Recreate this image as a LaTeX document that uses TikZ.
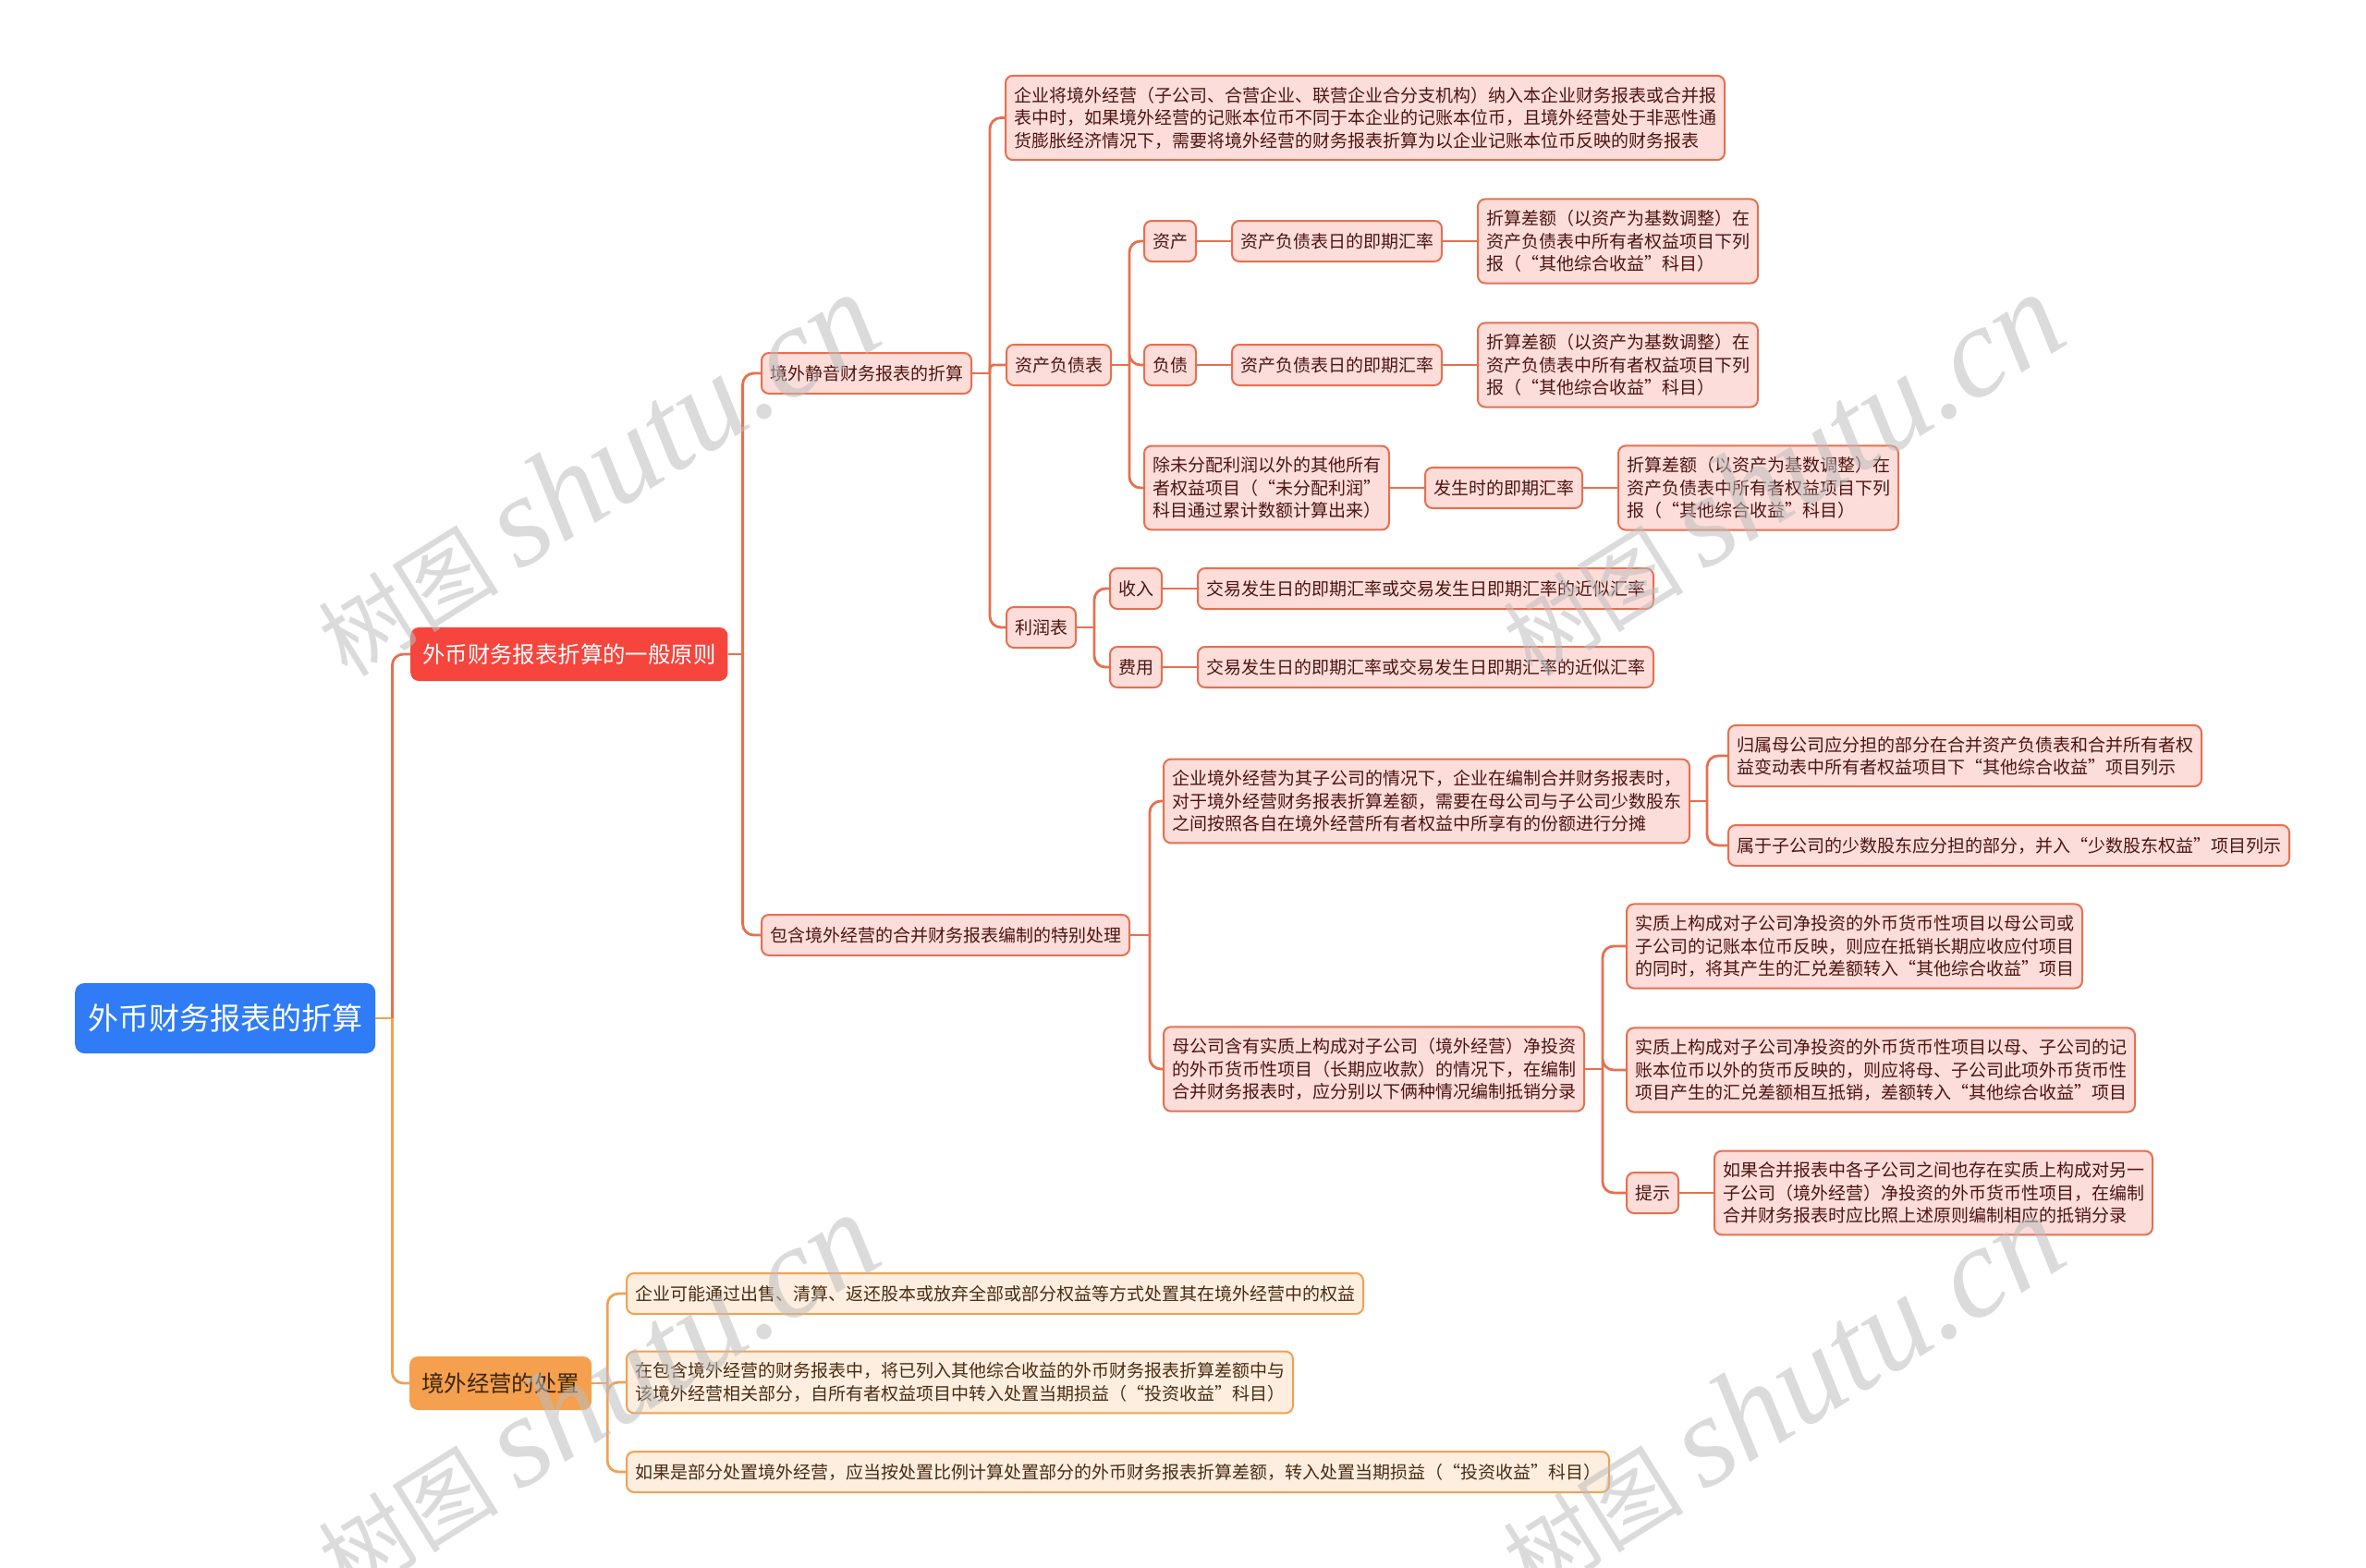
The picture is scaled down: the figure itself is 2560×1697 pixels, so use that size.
\documentclass[tikz,border=0pt]{standalone}
\usepackage{fontspec}
\setmainfont{Noto Sans CJK SC}
\newfontfamily\wmlatin{Liberation Serif}
\usetikzlibrary{positioning}
\definecolor{RootBlue}{HTML}{2F7CF6}
\definecolor{MainRed}{HTML}{F5453D}
\definecolor{DispOrange}{HTML}{F4A04E}
\definecolor{DispInk}{HTML}{3B2510}
\definecolor{RedLine}{HTML}{E76F4F}
\definecolor{OrangeLine}{HTML}{F1A152}
\definecolor{Blush}{HTML}{FCDDD9}
\definecolor{Maroon}{HTML}{4D1512}
\definecolor{Cream}{HTML}{FDEEDF}
\definecolor{Umber}{HTML}{4A2C12}
\definecolor{Smoke}{HTML}{BDBDBD}
\tikzset{
  rootbox/.style={
    rounded corners=10pt, fill=RootBlue, text=white, anchor=west,
    font=\fontsize{33}{40}\selectfont, inner xsep=14pt, minimum height=76pt
  },
  mainbox/.style={
    rounded corners=9pt, fill=MainRed, text=white, anchor=west,
    font=\fontsize{24.4}{30}\selectfont, inner xsep=13pt, minimum height=58pt
  },
  dispbox/.style={mainbox, fill=DispOrange, text=DispInk},
  topic/.style={
    rounded corners=8pt, draw=RedLine, line width=2pt, fill=Blush, text=Maroon,
    font=\fontsize{19}{24.5}\selectfont, inner xsep=9pt, inner ysep=12pt,
    minimum height=44pt, align=left, anchor=west
  },
  note/.style={topic, draw=OrangeLine, fill=Cream, text=Umber},
  redline/.style={draw=RedLine, line width=2.8pt},
  orangeline/.style={draw=OrangeLine, line width=2.8pt},
  wmark/.style={
    rotate=32, text=Smoke, opacity=0.55, inner sep=0pt,
    font=\fontsize{98}{100}\selectfont
  }
}
\begin{document}
\begin{tikzpicture}[x=1pt,y=-1pt,node distance=37pt]
  \useasboundingbox (0,0) rectangle (2560,1697);
  % root and main branches
  \node[rootbox] (root) at (81,1102) {外币财务报表的折算};
  \node[mainbox] (gen) at (444,708) {外币财务报表折算的一般原则};
  \node[dispbox] (disp) at (443,1497) {境外经营的处置};
  % translation of the statements
  \node[topic] (static) at (823,404) {境外静音财务报表的折算};
  \node[topic] (intro) at (1087,127.5) {企业将境外经营（子公司、合营企业、联营企业合分支机构）纳入本企业财务报表或合并报\\表中时，如果境外经营的记账本位币不同于本企业的记账本位币，且境外经营处于非恶性通\\货膨胀经济情况下，需要将境外经营的财务报表折算为以企业记账本位币反映的财务报表};
  \node[topic] (bs) at (1088,395) {资产负债表};
  \node[topic] (is) at (1088,679) {利润表};
  \node[topic] (asset) at (1237,261) {资产};
  \node[topic,right=of asset] (rateA) {资产负债表日的即期汇率};
  \node[topic,right=of rateA] (diffA) {折算差额（以资产为基数调整）在\\资产负债表中所有者权益项目下列\\报（“其他综合收益”科目）};
  \node[topic] (liab) at (1237,395) {负债};
  \node[topic,right=of liab] (rateL) {资产负债表日的即期汇率};
  \node[topic,right=of rateL] (diffL) {折算差额（以资产为基数调整）在\\资产负债表中所有者权益项目下列\\报（“其他综合收益”科目）};
  \node[topic] (equity) at (1237,528) {除未分配利润以外的其他所有\\者权益项目（“未分配利润”\\科目通过累计数额计算出来）};
  \node[topic,right=of equity] (rateE) {发生时的即期汇率};
  \node[topic,right=of rateE] (diffE) {折算差额（以资产为基数调整）在\\资产负债表中所有者权益项目下列\\报（“其他综合收益”科目）};
  \node[topic] (income) at (1200,637) {收入};
  \node[topic,right=of income] (rateI) {交易发生日的即期汇率或交易发生日即期汇率的近似汇率};
  \node[topic] (expense) at (1200,722) {费用};
  \node[topic,right=of expense] (rateX) {交易发生日的即期汇率或交易发生日即期汇率的近似汇率};
  % consolidated statements
  \node[topic] (consol) at (823,1012) {包含境外经营的合并财务报表编制的特别处理};
  \node[topic] (sub) at (1258,867) {企业境外经营为其子公司的情况下，企业在编制合并财务报表时，\\对于境外经营财务报表折算差额，需要在母公司与子公司少数股东\\之间按照各自在境外经营所有者权益中所享有的份额进行分摊};
  \node[topic] (parent) at (1869,818) {归属母公司应分担的部分在合并资产负债表和合并所有者权\\益变动表中所有者权益项目下“其他综合收益”项目列示};
  \node[topic] (minor) at (1869,915) {属于子公司的少数股东应分担的部分，并入“少数股东权益”项目列示};
  \node[topic] (netinv) at (1258,1157) {母公司含有实质上构成对子公司（境外经营）净投资\\的外币货币性项目（长期应收款）的情况下，在编制\\合并财务报表时，应分别以下俩种情况编制抵销分录};
  \node[topic] (caseA) at (1759,1024) {实质上构成对子公司净投资的外币货币性项目以母公司或\\子公司的记账本位币反映，则应在抵销长期应收应付项目\\的同时，将其产生的汇兑差额转入“其他综合收益”项目};
  \node[topic] (caseB) at (1759,1158) {实质上构成对子公司净投资的外币货币性项目以母、子公司的记\\账本位币以外的货币反映的，则应将母、子公司此项外币货币性\\项目产生的汇兑差额相互抵销，差额转入“其他综合收益”项目};
  \node[topic] (tip) at (1759,1291) {提示};
  \node[topic,right=of tip] (tipnote) {如果合并报表中各子公司之间也存在实质上构成对另一\\子公司（境外经营）净投资的外币货币性项目，在编制\\合并财务报表时应比照上述原则编制相应的抵销分录};
  % disposal
  \node[note] (dispA) at (677,1400) {企业可能通过出售、清算、返还股本或放弃全部或部分权益等方式处置其在境外经营中的权益};
  \node[note] (dispB) at (677,1496) {在包含境外经营的财务报表中，将已列入其他综合收益的外币财务报表折算差额中与\\该境外经营相关部分，自所有者权益项目中转入处置当期损益（“投资收益”科目）};
  \node[note] (dispC) at (677,1593) {如果是部分处置境外经营，应当按处置比例计算处置部分的外币财务报表折算差额，转入处置当期损益（“投资收益”科目）};
  % junctions
  \coordinate (jroot) at ([xshift=18pt]root.east);
  \coordinate (jgen) at ([xshift=16pt]gen.east);
  \coordinate (jstatic) at ([xshift=19pt]static.east);
  \coordinate (jbs) at ([xshift=19pt]bs.east);
  \coordinate (jis) at ([xshift=19pt]is.east);
  \coordinate (jconsol) at ([xshift=21pt]consol.east);
  \coordinate (jsub) at ([xshift=18pt]sub.east);
  \coordinate (jnet) at ([xshift=19pt]netinv.east);
  \coordinate (jdisp) at ([xshift=17pt]disp.east);
  % connectors
  \draw[orangeline] (root.east) -- (jroot);
  \draw[redline,rounded corners=12pt] (jroot) |- (gen.west);
  \draw[orangeline,rounded corners=12pt] (jroot) |- (disp.west);
  \draw[redline] (gen.east) -- (jgen) (static.east) -- (jstatic) (bs.east) -- (jbs)
    (is.east) -- (jis) (consol.east) -- (jconsol) (sub.east) -- (jsub) (netinv.east) -- (jnet);
  \draw[redline,rounded corners=12pt] (jgen) |- (static.west) (jgen) |- (consol.west);
  \draw[redline,rounded corners=12pt] (jstatic) |- (intro.west) (jstatic) |- (is.west);
  \draw[redline,rounded corners=4pt] (jstatic) |- (bs.west);
  \draw[redline,rounded corners=12pt] (jbs) |- (asset.west) (jbs) |- (liab.west) (jbs) |- (equity.west);
  \draw[redline,rounded corners=12pt] (jis) |- (income.west) (jis) |- (expense.west);
  \draw[redline] (asset) -- (rateA) -- (diffA);
  \draw[redline] (liab) -- (rateL) -- (diffL);
  \draw[redline] (equity) -- (rateE) -- (diffE);
  \draw[redline] (income) -- (rateI);
  \draw[redline] (expense) -- (rateX);
  \draw[redline,rounded corners=12pt] (jconsol) |- (sub.west) (jconsol) |- (netinv.west);
  \draw[redline,rounded corners=12pt] (jsub) |- (parent.west) (jsub) |- (minor.west);
  \draw[redline,rounded corners=12pt] (jnet) |- (caseA.west) (jnet) |- (caseB.west) (jnet) |- (tip.west);
  \draw[redline] (tip) -- (tipnote);
  \draw[orangeline] (disp.east) -- (jdisp);
  \draw[orangeline,rounded corners=12pt] (jdisp) |- (dispA.west) (jdisp) |- (dispB.west) (jdisp) |- (dispC.west);
  % watermark
  \foreach \p in {(645,514),(1927,514),(645,1510),(1927,1510)}
    \node[wmark] at \p {树图 {\wmlatin\itshape\fontsize{140}{140}\selectfont shutu.cn}};
\end{tikzpicture}
\end{document}
